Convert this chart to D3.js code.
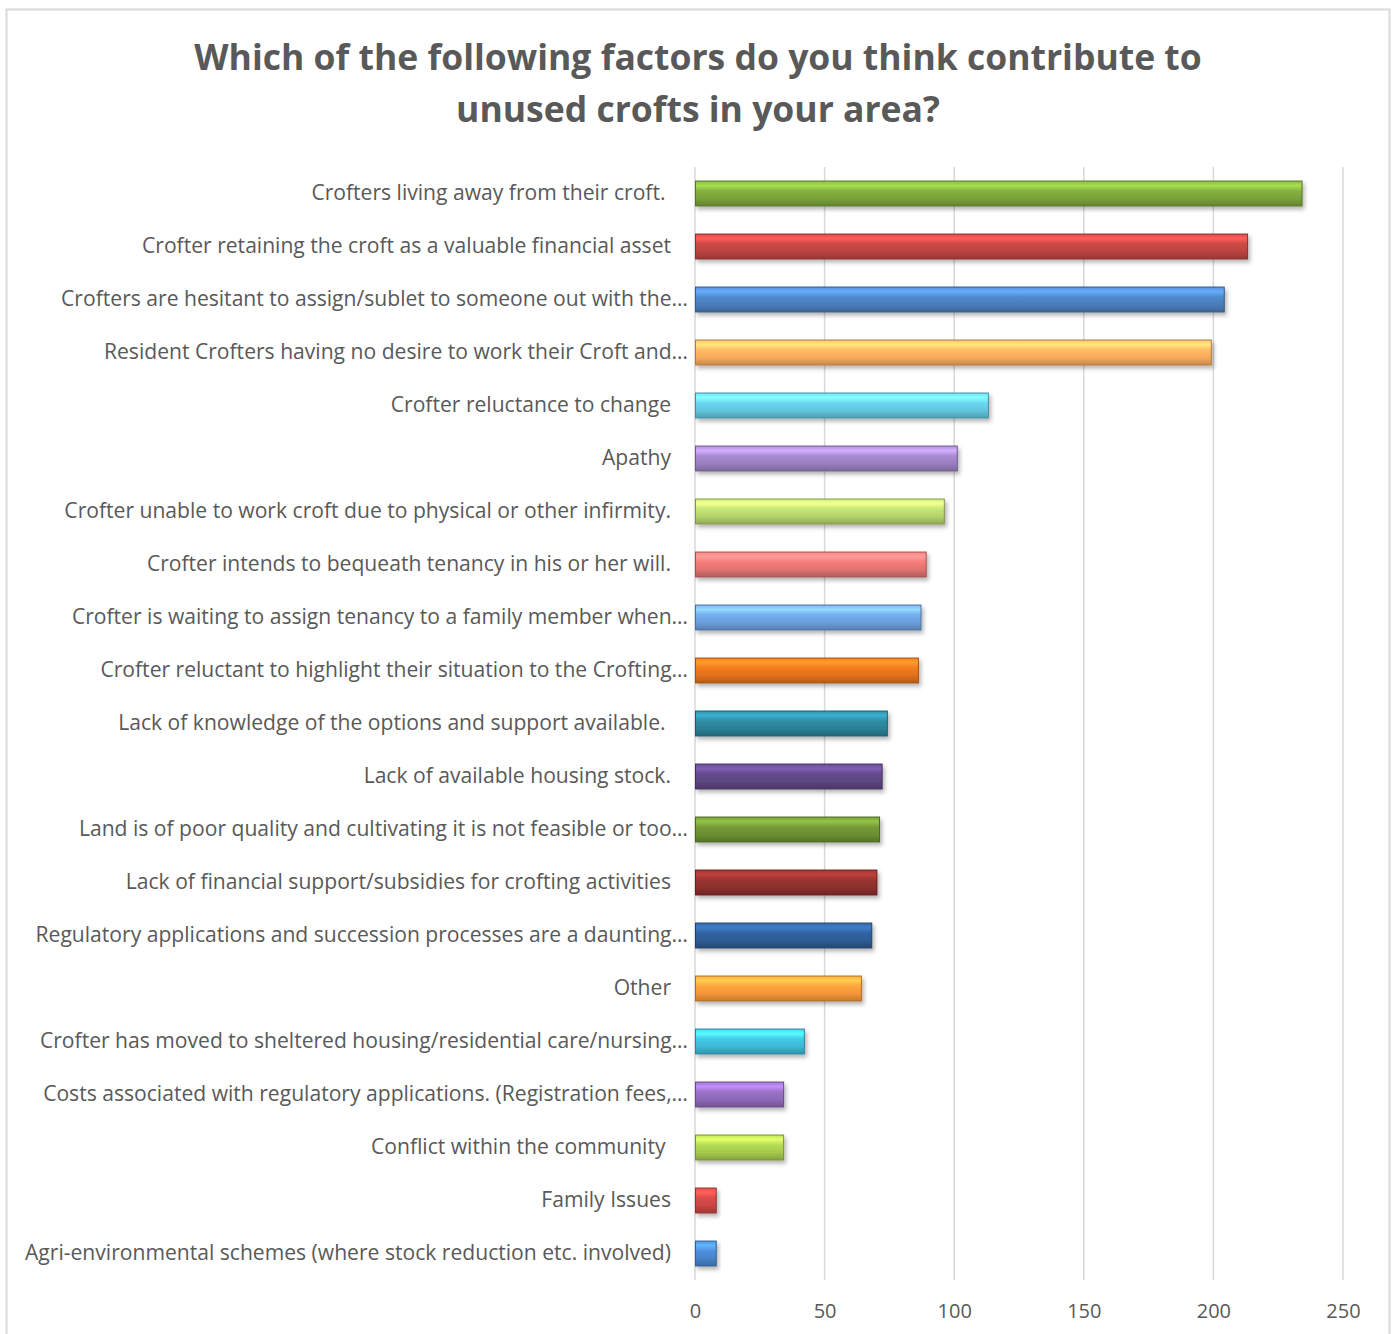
<!DOCTYPE html>
<html>
<head>
<meta charset="utf-8">
<script src="https://cdn.jsdelivr.net/npm/d3@7"></script>
<style>
  body { margin: 0; background: #fff; }
  svg text { font-family: "Open Sans", "Noto Sans", sans-serif; white-space: pre; }
</style>
</head>
<body>
<script>
// chart data, top to bottom
const categories = [
  'Crofters living away from their croft. ',
  'Crofter retaining the croft as a valuable financial asset',
  'Crofters are hesitant to assign/sublet to someone out with the…',
  'Resident Crofters having no desire to work their Croft and…',
  'Crofter reluctance to change',
  'Apathy',
  'Crofter unable to work croft due to physical or other infirmity.',
  'Crofter intends to bequeath tenancy in his or her will.',
  'Crofter is waiting to assign tenancy to a family member when…',
  'Crofter reluctant to highlight their situation to the Crofting…',
  'Lack of knowledge of the options and support available. ',
  'Lack of available housing stock.',
  'Land is of poor quality and cultivating it is not feasible or too…',
  'Lack of financial support/subsidies for crofting activities',
  'Regulatory applications and succession processes are a daunting…',
  'Other',
  'Crofter has moved to sheltered housing/residential care/nursing…',
  'Costs associated with regulatory applications. (Registration fees,…',
  'Conflict within the community ',
  'Family Issues',
  'Agri-environmental schemes (where stock reduction etc. involved)'
];
const values = [234, 213, 204, 199, 113, 101, 96, 89, 87, 86, 74, 72, 71, 70, 68, 64, 42, 34, 34, 8, 8];
const barColors = [
  '#7aa23a', '#bb4340', '#4a7ebb', '#f8aa5c', '#62c5dd', '#9a7fc0', '#b3d36a',
  '#e07270', '#6b9edb', '#e0711d', '#2b8097', '#5c4580', '#6b8e32', '#8c2f2c',
  '#2d5b93', '#f59638', '#3eb8d5', '#8d68b8', '#a5c94d', '#c94542', '#4683c9'
];
const xTicks = [0, 50, 100, 150, 200, 250];
const titleLines = [
  'Which of the following factors do you think contribute to',
  'unused crofts in your area?'
];

const W = 1397, H = 1334;
const margin = { top: 167, left: 695, right: 54, bottom: 54 };

const svg = d3.select('body').append('svg')
  .attr('width', W)
  .attr('height', H);

const defs = svg.append('defs');

// soft drop shadow under the bars
const shadow = defs.append('filter')
  .attr('id', 'shadow')
  .attr('x', '-10%').attr('y', '-40%')
  .attr('width', '130%').attr('height', '200%');
shadow.append('feGaussianBlur').attr('in', 'SourceAlpha').attr('stdDeviation', 2.2);
shadow.append('feOffset').attr('dx', 1.5).attr('dy', 3).attr('result', 'blur');
shadow.append('feComponentTransfer').append('feFuncA').attr('type', 'linear').attr('slope', 0.3);
const merge = shadow.append('feMerge');
merge.append('feMergeNode');
merge.append('feMergeNode').attr('in', 'SourceGraphic');

// glossy vertical gradient for each colour
barColors.forEach((c, i) => {
  const base = d3.color(c);
  const g = defs.append('linearGradient')
    .attr('id', 'grad' + i)
    .attr('x1', 0).attr('y1', 0).attr('x2', 0).attr('y2', 1);
  g.append('stop').attr('offset', '0%').attr('stop-color', base.brighter(0.4));
  g.append('stop').attr('offset', '18%').attr('stop-color', base.brighter(0.9));
  g.append('stop').attr('offset', '40%').attr('stop-color', base.brighter(0.25));
  g.append('stop').attr('offset', '70%').attr('stop-color', base);
  g.append('stop').attr('offset', '100%').attr('stop-color', base.darker(0.6));
});

// chart frame
svg.append('rect')
  .attr('x', 6.5).attr('y', 9.5)
  .attr('width', 1383).attr('height', 1340)
  .attr('fill', '#fff')
  .attr('stroke', '#d9d9d9')
  .attr('stroke-width', 2);

// title
svg.append('g')
  .selectAll('text')
  .data(titleLines)
  .enter()
  .append('text')
  .attr('x', 698)
  .attr('y', (d, i) => 70 + i * 52)
  .attr('text-anchor', 'middle')
  .attr('font-size', 35.5)
  .attr('font-weight', 'bold')
  .attr('fill', '#595959')
  .text(d => d);

const x = d3.scaleLinear()
  .domain([0, 250])
  .range([margin.left, W - margin.right]);

const y = d3.scaleBand()
  .domain(categories)
  .range([margin.top, H - margin.bottom])
  .paddingInner(0.53)
  .paddingOuter(0.265);

// gridlines
svg.append('g')
  .selectAll('line')
  .data(xTicks)
  .enter()
  .append('line')
  .attr('x1', d => x(d))
  .attr('x2', d => x(d))
  .attr('y1', margin.top)
  .attr('y2', H - margin.bottom)
  .attr('stroke', '#d9d9d9')
  .attr('stroke-width', 1.5);

// x axis labels
const xAxis = svg.append('g')
  .attr('transform', `translate(0,${H - margin.bottom})`)
  .call(d3.axisBottom(x).tickValues(xTicks).tickSize(0).tickPadding(24));
xAxis.select('.domain').remove();
xAxis.selectAll('text')
  .attr('font-size', 20)
  .attr('fill', '#595959')
  .style('font-family', '"Open Sans", sans-serif');

// category labels
svg.append('g')
  .selectAll('text')
  .data(categories)
  .enter()
  .append('text')
  .attr('x', d => (d.endsWith('…') ? 688 : 671))
  .attr('y', d => y(d) + y.bandwidth() / 2)
  .attr('dy', '0.3em')
  .attr('text-anchor', 'end')
  .attr('font-size', 21.1)
  .attr('fill', '#595959')
  .text(d => d);

// bars
svg.append('g')
  .selectAll('rect')
  .data(values)
  .enter()
  .append('rect')
  .attr('x', x(0) + 0.5)
  .attr('y', (d, i) => y(categories[i]))
  .attr('width', d => x(d) - x(0))
  .attr('height', y.bandwidth())
  .attr('fill', (d, i) => `url(#grad${i})`)
  .attr('stroke', (d, i) => d3.color(barColors[i]).darker(0.9))
  .attr('stroke-width', 1)
  .attr('filter', 'url(#shadow)');
</script>
</body>
</html>
